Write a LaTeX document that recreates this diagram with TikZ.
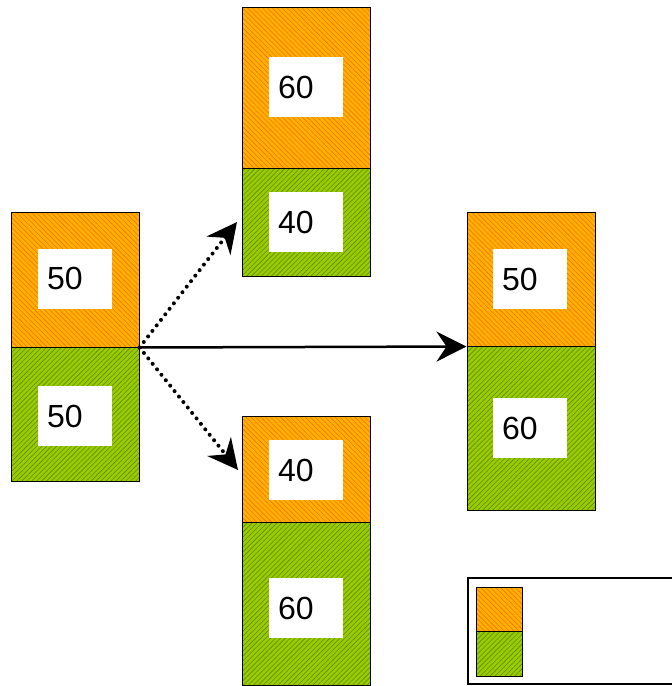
\documentclass[tikz,border=0pt]{standalone}
\usepackage{fontspec}
\setmainfont{Liberation Sans}
\usetikzlibrary{patterns.meta,arrows.meta}

\definecolor{orfill}{HTML}{FFB300}
\definecolor{orhatch}{HTML}{FF6A00}
\definecolor{grfill}{HTML}{99CC00}
\definecolor{grhatch}{HTML}{5F8A00}

\tikzset{
  orbox/.style={draw, line width=1pt, inner sep=0pt, minimum width=128pt,
    preaction={fill=orfill},
    preaction={pattern={Lines[angle=-45,distance=3.5pt,line width=0.6pt]}, pattern color=orhatch}},
  grbox/.style={draw, line width=1pt, inner sep=0pt, minimum width=128pt,
    preaction={fill=grfill},
    preaction={pattern={Lines[angle=45,distance=3.5pt,line width=0.6pt]}, pattern color=grhatch}},
  lbl/.style={fill=white, text width=56pt, align=left, inner xsep=9pt, inner ysep=0pt,
    minimum height=60pt, font=\fontsize{32}{38}\selectfont},
  arr/.style={-{Stealth[length=30pt,width=30pt,inset=10pt]}},
  dotarr/.style={arr, line width=4pt, dash pattern=on 0pt off 7pt, line cap=round}
}

\begin{document}
\begin{tikzpicture}[x=1pt,y=-1pt]
\useasboundingbox (0,0) rectangle (672,686);
\clip (0,0) rectangle (672,686);

% the stacks
\path
(75, 279.5) node[orbox, minimum height=135pt](lo){}
(75, 414) node[grbox, minimum height=134pt](lg){}
(306.5, 87.5) node[orbox, minimum height=161pt](to){}
(306.5, 222) node[grbox, minimum height=108pt](tg){}
(306.5, 469) node[orbox, minimum height=106pt](bo){}
(306.5, 603.5) node[grbox, minimum height=163pt](bg){}
(531, 279) node[orbox, minimum height=134pt](ro){}
(531, 428) node[grbox, minimum height=164pt](rg){};

% the values
\node[lbl] at (75, 278.5) {50};
\node[lbl] at (75, 416) {50};
\node[lbl] at (306, 87) {60};
\node[lbl] at (306, 222) {40};
\node[lbl] at (306, 470) {40};
\node[lbl] at (306, 608) {60};
\node[lbl] at (530, 279) {50};
\node[lbl] at (530, 428) {60};

% legend
\node[draw, line width=1.5pt, minimum width=212pt, minimum height=106pt](legend) at (574, 631){};
\path
(499, 609) node[orbox, minimum width=46pt, minimum height=44pt](lego){}
(499, 653.5) node[grbox, minimum width=46pt, minimum height=45pt](legg){};

\coordinate (up) at ([xshift=-5pt]tg.west);
\coordinate (down) at ([xshift=-4pt, yshift=-1pt]bo.west);

\draw[arr, line width=2.5pt] (lo.south east) -- (ro.south west);
\draw[dotarr] (lo.south east) -- (up);
\draw[dotarr] (lo.south east) -- (down);

\end{tikzpicture}
\end{document}
